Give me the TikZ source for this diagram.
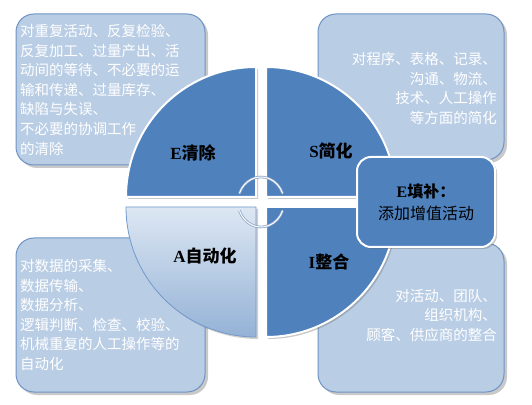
\documentclass[tikz,border=0pt]{standalone}
\usepackage{fontspec}
\setmainfont{Liberation Serif}
\newfontfamily\cjk{Noto Sans CJK SC}
\usetikzlibrary{shadows}
\definecolor{qblue}{HTML}{4F81BD}
\definecolor{lblue}{HTML}{B9CDE5}
\definecolor{bblue}{HTML}{6F93C4}
\definecolor{gtop}{HTML}{DDE7F3}
\definecolor{gbot}{HTML}{94B2D6}
\definecolor{arcc}{HTML}{8DA8CB}
\begin{document}
\begin{tikzpicture}[x=1pt,y=1pt,
  descbox/.style={fill=lblue,draw=bblue,line width=1pt,rounded corners=18pt,
    drop shadow={shadow xshift=3pt,shadow yshift=-3pt,opacity=0.35,fill=black!60}},
  quad/.style={fill=qblue,draw=white,line width=2pt,
    drop shadow={shadow xshift=2pt,shadow yshift=-2pt,opacity=0.35,fill=black!60}},
  desctext/.style={inner sep=0pt,text=white,font=\cjk\fontsize{14.5}{19.6}\selectfont},
  qlabel/.style={inner sep=0pt,text=black,font=\bfseries\fontsize{17}{19}\selectfont},
  cyc/.style={draw=arcc,line width=2.6pt},
  cycin/.style={draw=white,line width=1pt}
]
\useasboundingbox[fill=white] (0,0) rectangle (532,404);

% description boxes
\path[descbox] (16,239) rectangle (205,390);
\path[descbox] (318,244) rectangle (504,390);
\path[descbox] (16,12) rectangle (205,166);
\path[descbox] (318,12) rectangle (504,161);

% quadrants
\path[quad] (256,207) -- (126,207) arc[start angle=180,end angle=90,radius=130] -- cycle;
\path[quad] (266,207) -- (266,337) arc[start angle=90,end angle=0,radius=130] -- cycle;
\path[quad,draw=none] (266,197) -- (396,197) arc[start angle=0,end angle=-90,radius=130] -- cycle;
\draw[white,line width=2pt] (266,197) -- (396,197) arc[start angle=0,end angle=-90,radius=130] -- cycle;
\path[top color=gtop,bottom color=gbot,draw=qblue!80,line width=0.8pt,
  drop shadow={shadow xshift=2pt,shadow yshift=-2pt,opacity=0.3,fill=black!60}]
  (256,197) -- (126,197) arc[start angle=180,end angle=270,radius=130] -- cycle;

% descriptions
\node[desctext,anchor=north west,align=left] (tltext) at (20,380)
  {对重复活动、反复检验、\\反复加工、过量产出、活\\动间的等待、不必要的运\\输和传递、过量库存、\\缺陷与失误、\\不必要的协调工作\\的清除};
\node[desctext,anchor=north east,align=right] (trtext) at (497,352)
  {对程序、表格、记录、\\沟通、物流、\\技术、人工操作\\等方面的简化};
\node[desctext,anchor=north west,align=left] (bltext) at (20,145)
  {对数据的采集、\\数据传输、\\数据分析、\\逻辑判断、检查、校验、\\机械重复的人工操作等的\\自动化};
\node[desctext,anchor=north east,align=right] (brtext) at (497,115)
  {对活动、团队、\\组织机构、\\顾客、供应商的整合};

% quadrant labels
\node[qlabel] (qe) at (193,251) {E{\cjk 清除}};
\node[qlabel] (qs) at (331,253) {S{\cjk 简化}};
\node[qlabel] (qa) at (205,148) {A{\cjk 自动化}};
\node[qlabel] (qi) at (329,142) {I{\cjk 整合}};

% center cycle arcs
\draw[cyc] (261,202) ++(160:23 and 25) arc[start angle=160,end angle=20,x radius=23,y radius=25];
\draw[cycin] (261,202) ++(160:23 and 25) arc[start angle=160,end angle=20,x radius=23,y radius=25];
\draw[cyc] (261,202) ++(200:23 and 25) arc[start angle=200,end angle=340,x radius=23,y radius=25];
\draw[cycin] (261,202) ++(200:23 and 25) arc[start angle=200,end angle=340,x radius=23,y radius=25];

% E box
\node[fill=qblue,draw=white,line width=2pt,rounded corners=14pt,
  minimum width=138pt,minimum height=90pt,inner sep=0pt,
  drop shadow={shadow xshift=2pt,shadow yshift=-2pt,opacity=0.35,fill=black!60}]
  (ebox) at (426,202) {};
\node[inner sep=0pt,align=center,font=\fontsize{16}{22}\selectfont] (etext) at (ebox.center)
  {\textbf{E{\cjk 填补：}}\\{\cjk 添加增值活动}};
\end{tikzpicture}
\end{document}
